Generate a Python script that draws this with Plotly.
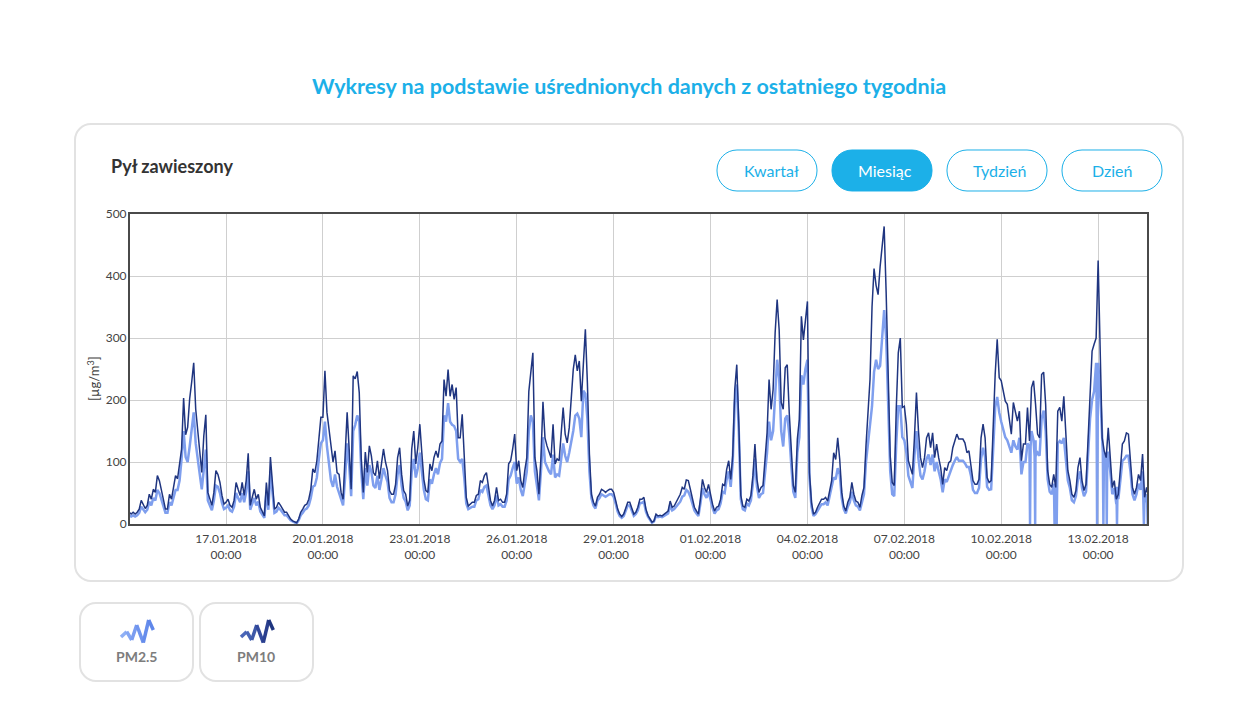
import plotly.graph_objects as go
from datetime import datetime, timedelta

start = datetime(2018, 1, 14)

# readings every 90 minutes
pm10 = [19, 16, 19, 16, 19, 24, 38, 30, 25, 30, # 14.01
        48, 40, 56, 51, 78, 70, 54, 38, 24, 24,
        48, 40, 56, 78, 73, 94, 121, 203, 144, 156,
        202, 229, 260, 185, 150, 105, 83, 142, 176, 51,
        40, 30, 51, 86, 80, 67, 46, 32, 35, 40,
        30, 27, 38, 67, 56, 46, 67, 46, 70, 114,
        30, 43, 56, 40, 48, 27, 19, 13, 67, 30,
        108, 67, 24, 27, 35, 30, 24, 19, 19, 13,
        8, 5, 3, 2, 8, 19, 24, 30, 32, 40,
        56, 89, 83, 102, 137, 172, 172, 247, 180, 153,
        121, 100, 118, 83, 80, 51, 40, 100, 180, 121,
        56, 239, 234, 246, 212, 105, 51, 116, 83, 126,
        110, 83, 78, 102, 73, 97, 121, 100,
        86, 54, 48, 48, 64, 107, 123, 80, 54, 48, # 22.01
        29, 38, 121, 150, 97, 123, 161, 115, 72, 54,
        51, 97, 86, 107, 118, 107, 129, 134, 233, 206,
        249, 206, 225, 201, 220, 139, 139, 177, 107, 43,
        29, 32, 35, 35, 46, 48, 70, 67, 78, 83,
        59, 38, 29, 38, 59, 38, 40, 35, 35, 48,
        97, 102, 121, 145, 86, 102, 70, 59, 86, 107,
        214, 247, 276, 107, 86, 48, 107, 197, 139, 126,
        115, 107, 161, 97, 105, 102, 145, 188, 145, 131,
        155, 206, 249, 273, 247, 263, 198, 257, 314, 228,
        113, 48, 35, 29, 43, 48, 56, 54, 51, 54,
        56, 56, 51, 38, 24, 16, 12, 16, 27, 35,
        35, 24, 16, 19, 27, 40, 40, 43,
        24, 14, 8, 3, 5, 16, 13, 14, 13, 16, # 30.01
        18, 21, 37, 27, 29, 35, 43, 48, 59, 56,
        71, 70, 56, 40, 27, 21, 16, 40, 72, 59,
        51, 64, 46, 32, 21, 27, 29, 40, 64, 62,
        88, 102, 72, 110, 217, 257, 163, 46, 29, 27,
        40, 37, 46, 78, 129, 72, 51, 59, 62, 99,
        147, 233, 185, 217, 308, 362, 313, 196, 185, 252,
        257, 179, 110, 62, 51, 137, 169, 335, 297, 324,
        359, 83, 35, 16, 19, 27, 35, 40, 40, 43,
        37, 56, 70, 115, 104, 139, 104, 51, 29, 21,
        35, 43, 67, 48, 37, 35, 27, 46, 59, 126,
        179, 233,
        350, 412, 385, 370, 415, 445, 480, 372, 212, 110, 67, 62, 186, 276, 300, # 06.02
        188, 190, 161, 102, 91, 80, 139, 212, 150, 107,
        91, 107, 139, 147, 123, 147, 107, 129, 107, 91,
        64, 91, 86, 99, 102, 123, 134, 145, 137, 137,
        137, 131, 115, 118, 97, 70, 64, 64, 72, 139,
        161, 139, 75, 67, 70, 161, 241, 298, 236, 231,
        212, 198, 193, 172, 145, 196, 180, 166, 182, 102,
        129, 129, 188, 134, 220, 231, 193, 145, 139, 241,
        245, 193, 86, 64, 59, 80, 59, 182, 188, 166,
        206, 134, 86, 70, 48, 43, 54, 91, 107, 70,
        54, 64, 134, 214, 279, 290, 300, 425, 290, 139,
        118, 107, 155, 107, 59, 70, 40, 48, 86, 129,
        134, 147, 145, 107, 59, 48, 59, 80, 70, 113,
        43, 59, 43, 54]

pm25 = [14, 12, 14, 12, 14, 18, 28, 23, 19, 23,
        36, 30, 42, 38, 55, 50, 40, 28, 18, 18,
        35, 30, 42, 55, 55, 70, 105, 150, 108, 100,
        125, 150, 180, 130, 100, 80, 56, 95, 120, 38,
        30, 22, 38, 62, 60, 50, 34, 24, 26, 30,
        22, 20, 28, 50, 42, 35, 50, 35, 52, 85,
        23, 32, 42, 30, 36, 20, 14, 10, 50, 23,
        85, 50, 18, 20, 26, 23, 18, 14, 14, 10,
        6, 4, 2, 1, 6, 14, 18, 23, 25, 30,
        42, 60, 62, 75, 105, 130, 135, 165, 125, 100,
        70, 60, 80, 60, 50, 38, 30, 75, 130, 95,
        45, 150, 160, 175, 165, 85, 40, 90, 62, 95,
        85, 62, 58, 78, 55, 72, 90, 78,
        68, 42, 35, 35, 48, 80, 95, 62, 42, 36,
        22, 30, 85, 105, 75, 90, 115, 85, 55, 40,
        38, 72, 65, 80, 90, 80, 98, 105, 175, 165,
        195, 165, 160, 158, 150, 105, 100, 105, 75, 33,
        24, 26, 28, 28, 38, 40, 55, 52, 60, 62,
        46, 30, 24, 30, 46, 30, 32, 28, 28, 38,
        72, 78, 90, 100, 65, 75, 55, 45, 65, 85,
        150, 175, 165, 85, 62, 38, 85, 140, 100, 92,
        85, 80, 112, 75, 80, 78, 105, 130, 110, 100,
        115, 130, 150, 175, 178, 170, 140, 215, 210, 170,
        85, 42, 30, 25, 38, 42, 48, 46, 44, 46,
        48, 48, 44, 33, 20, 13, 10, 13, 22, 30,
        30, 20, 13, 16, 22, 34, 34, 36,
        20, 12, 6, 2, 4, 13, 11, 12, 11, 13,
        15, 17, 30, 22, 24, 28, 33, 36, 44, 46,
        55, 52, 44, 32, 22, 17, 13, 33, 58, 48,
        42, 52, 38, 26, 17, 22, 24, 33, 52, 50,
        72, 85, 60, 100, 195, 225, 150, 40, 24, 22,
        33, 30, 38, 65, 105, 60, 42, 48, 50, 85,
        115, 165, 135, 150, 210, 265, 235, 150, 125, 170,
        175, 145, 95, 52, 42, 115, 140, 240, 225, 250,
        265, 75, 28, 13, 16, 22, 28, 32, 32, 35,
        30, 46, 58, 75, 72, 90, 80, 42, 24, 17,
        28, 35, 52, 38, 30, 28, 22, 38, 48, 100,
        130, 165,
        190, 245, 265, 250, 255, 300, 345, 300, 190, 85, 48, 45, 130, 190, 190,
        140, 135, 115, 78, 66, 58, 110, 150, 105, 78,
        72, 85, 105, 112, 95, 112, 85, 100, 85, 72,
        51, 72, 68, 78, 85, 95, 102, 108, 102, 102,
        102, 98, 92, 92, 78, 55, 50, 50, 58, 105,
        123, 108, 60, 55, 56, 120, 188, 205, 180, 165,
        150, 140, 135, 125, 115, 135, 125, 120, 139, 80,
        100, 100, 130, 105, 150, 135, 135, 115, 110, 170,
        183, 150, 72, 52, 48, 65, 48, 130, 134, 130,
        139, 105, 70, 58, 38, 35, 45, 72, 85, 58,
        45, 52, 105, 170, 200, 214, 260, 260, 215, 115,
        95, 85, 115, 85, 48, 58, 32, 40, 70, 102,
        105, 110, 110, 85, 48, 38, 48, 65, 55, 85,
        35, 48, 35, 44]

# sensor dropouts of PM2.5, between the regular readings
dropouts = [('2018-02-10 21:24', 125), ('2018-02-11 01:12', 110), ('2018-02-11 15:36', 60),
            ('2018-02-11 16:24', 60), ('2018-02-11 17:12', 60), ('2018-02-12 23:12', 220),
            ('2018-02-13 03:54', 115), ('2018-02-13 06:24', 115), ('2018-02-13 14:00', 60),
            ('2018-02-14 10:00', 38), ('2018-02-14 12:50', 35)]

times = [start + timedelta(minutes = 90 * i) for i in range(len(pm10))]

rows = list(zip(times, pm25))

for stamp, level in dropouts:
    t = datetime.strptime(stamp, '%Y-%m-%d %H:%M')
    rows.append((t - timedelta(minutes = 25), level))
    rows.append((t, 0))
    rows.append((t + timedelta(minutes = 25), level))

rows.sort()

# pixel position on the page -> paper fraction of the plot area
def px(x):
    return (x - 130) / 1017

def py(y):
    return (524 - y) / 310

def round_box(x0, y0, x1, y1, r, line, fill, width):
    k = 0.45 * r
    path = 'M %f,%f' % (px(x0 + r), py(y0))
    path += ' L %f,%f' % (px(x1 - r), py(y0))
    path += ' C %f,%f %f,%f %f,%f' % (px(x1 - k), py(y0), px(x1), py(y0 + k), px(x1), py(y0 + r))
    path += ' L %f,%f' % (px(x1), py(y1 - r))
    path += ' C %f,%f %f,%f %f,%f' % (px(x1), py(y1 - k), px(x1 - k), py(y1), px(x1 - r), py(y1))
    path += ' L %f,%f' % (px(x0 + r), py(y1))
    path += ' C %f,%f %f,%f %f,%f' % (px(x0 + k), py(y1), px(x0), py(y1 - k), px(x0), py(y1 - r))
    path += ' L %f,%f' % (px(x0), py(y0 + r))
    path += ' C %f,%f %f,%f %f,%f Z' % (px(x0), py(y0 + k), px(x0 + k), py(y0), px(x0 + r), py(y0))
    return dict(type = 'path', xref = 'paper', yref = 'paper', path = path, layer = 'below',
                line = dict(color = line, width = width), fillcolor = fill)

def zigzag(x, colors):
    points = [(0, 17), (5.7, 11.7), (10.7, 20), (15.7, 5), (22.3, 22.7), (27.7, 0), (32.3, 10)]
    marks = []
    for i in range(len(points) - 1):
        a = points[i]
        b = points[i + 1]
        marks.append(dict(type = 'line', xref = 'paper', yref = 'paper',
                          x0 = px(x + a[0]), y0 = py(620 + a[1]), x1 = px(x + b[0]), y1 = py(620 + b[1]),
                          line = dict(color = colors[i], width = 3.5)))
    return marks

def label(x, y, text, size, color, bold = False, anchor = 'center'):
    return dict(xref = 'paper', yref = 'paper', x = px(x), y = py(y), text = '<b>' + text + '</b>' if bold else text,
                showarrow = False, xanchor = anchor, yanchor = 'middle',
                font = dict(family = 'Lato', size = size, color = color))

shapes = [round_box(75, 124, 1183, 581, 16, '#e2e2e2', 'white', 2),
          round_box(717, 150, 817, 191, 20, '#1cb0e8', 'white', 1),
          round_box(832, 150, 932, 191, 20, '#1cb0e8', '#1cb0e8', 1),
          round_box(947, 150, 1047, 191, 20, '#1cb0e8', 'white', 1),
          round_box(1062, 150, 1162, 191, 20, '#1cb0e8', 'white', 1),
          round_box(80, 603, 193, 681, 16, '#e2e2e2', 'white', 2),
          round_box(200, 603, 313, 681, 16, '#e2e2e2', 'white', 2)]

shapes += zigzag(121, ['#8fb0f5', '#84a6f3', '#7a9cf0', '#7095ee', '#668dec', '#5f87ea'])
shapes += zigzag(241, ['#4a66b8', '#4460b2', '#3d58a8', '#32489a', '#2a3f8e', '#1f3580'])

annotations = [label(629, 86.5, 'Wykresy na podstawie uśrednionych danych z ostatniego tygodnia', 21.5, '#1cb0e8', bold = True),
               label(109, 165.5, 'Pył zawieszony', 18, '#333333', bold = True, anchor = 'left'),
               label(771, 170, 'Kwartał', 16, '#1cb0e8'),
               label(885, 170, 'Miesiąc', 16, 'white'),
               label(1000, 170, 'Tydzień', 16, '#1cb0e8'),
               label(1112, 170, 'Dzień', 16, '#1cb0e8'),
               label(136, 656.5, 'PM2.5', 14, '#7d7d7d', bold = True),
               label(256, 656.5, 'PM10', 14, '#7d7d7d', bold = True),
               dict(xref = 'paper', yref = 'paper', x = px(93), y = py(379), text = '[µg/m<sup>3</sup>]', showarrow = False,
                    xanchor = 'center', yanchor = 'middle', textangle = -90,
                    font = dict(family = 'Lato', size = 13, color = '#444444'))]

tick_days = [start + timedelta(days = 3 + 3 * i) for i in range(10)]

layout = go.Layout(
    width = 1242, # the page keeps 8 px of body margin
    height = 690,
    margin = dict(l = 122, r = 103, t = 206, b = 174),
    paper_bgcolor = 'white',
    plot_bgcolor = 'white',
    showlegend = False,
    shapes = shapes,
    annotations = annotations,
    font = dict(family = 'Lato', size = 12, color = '#444444'),
    xaxis = {'type': 'date', 'range': [start + timedelta(minutes = 40), start + timedelta(hours = 756.3)], 'tickmode': 'array',
             'tickvals': tick_days, 'ticktext': [d.strftime('%d.%m.%Y') + '<br>00:00' for d in tick_days],
             'ticklabelstandoff': 3, 'tickfont': {'size': 12},
             'showgrid': True, 'gridcolor': '#cfcfcf', 'gridwidth': 1, 'zeroline': False,
             'showline': True, 'linecolor': '#4a4a4a', 'linewidth': 2, 'mirror': True},
    yaxis = {'range': [0, 500], 'tickvals': [0, 100, 200, 300, 400, 500], 'ticklabelstandoff': -1,
             'showgrid': True, 'gridcolor': '#cfcfcf', 'gridwidth': 1, 'zeroline': False,
             'showline': True, 'linecolor': '#4a4a4a', 'linewidth': 2, 'mirror': True},
)

fig = go.Figure(layout = layout)

fig.add_trace(go.Scatter(x = [r[0] for r in rows], y = [r[1] for r in rows], mode = 'lines', name = 'PM2.5',
                         line = dict(width = 2.5, color = '#7f9fee')))

fig.add_trace(go.Scatter(x = times, y = pm10, mode = 'lines', name = 'PM10',
                         line = dict(width = 1.5, color = '#1f3580')))

fig.write_html("out.html")
